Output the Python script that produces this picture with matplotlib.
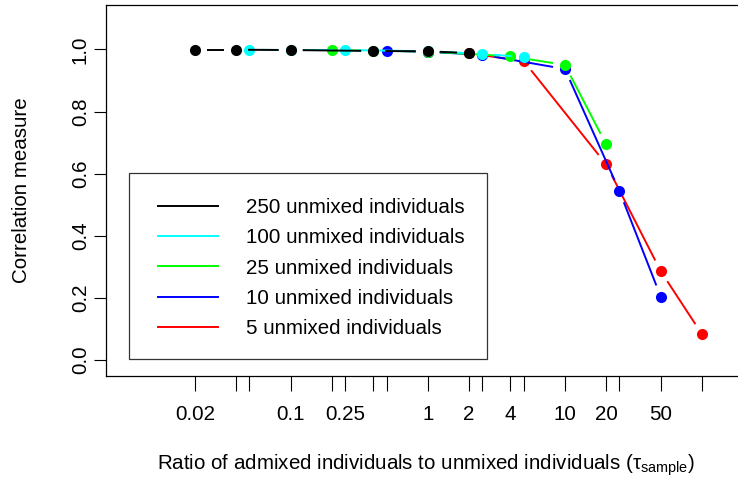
import numpy as np
import matplotlib
matplotlib.use("Agg")
import matplotlib.pyplot as plt
from matplotlib.lines import Line2D
from matplotlib.patches import Rectangle
from matplotlib.transforms import Affine2D

plt.rcParams["font.family"] = ["Liberation Sans", "DejaVu Sans"]
plt.rcParams["mathtext.fontset"] = "custom"
plt.rcParams["mathtext.rm"] = "Liberation Sans"
plt.rcParams["mathtext.it"] = "Liberation Sans:italic"
plt.rcParams["mathtext.sf"] = "Liberation Sans"

FS = 14.8

# ratio of admixed to unmixed individuals, and correlation, per sample size
series_labels = ["250 unmixed individuals", "100 unmixed individuals",
                 "25 unmixed individuals", "10 unmixed individuals",
                 "5 unmixed individuals"]
series_colors = ["#000000", "#00FFFF", "#00FF00", "#0000FF", "#FF0000"]

ratio_250 = [0.02, 0.04, 0.1, 0.4, 1, 2]
corr_250 = [0.999, 0.999, 0.998, 0.995, 0.994, 0.988]
ratio_100 = [0.05, 0.1, 0.25, 1, 2.5, 5]
corr_100 = [0.999, 0.998, 0.998, 0.994, 0.986, 0.975]
ratio_25 = [0.2, 0.4, 1, 4, 10, 20]
corr_25 = [0.998, 0.996, 0.993, 0.978, 0.950, 0.694]
ratio_10 = [0.5, 1, 2.5, 10, 25, 50]
corr_10 = [0.996, 0.992, 0.983, 0.937, 0.544, 0.204]
ratio_5 = [1, 2, 5, 20, 50, 100]
corr_5 = [0.993, 0.987, 0.963, 0.630, 0.286, 0.083]

x_ticks = [0.02, 0.04, 0.05, 0.1, 0.2, 0.25, 0.4, 0.5, 1, 2, 2.5, 4, 5,
           10, 20, 25, 50, 100]
x_tick_labels = ["0.02", "", "", "0.1", "", "0.25", "", "", "1", "2", "",
                 "4", "", "10", "20", "", "50", ""]
y_ticks = [0.0, 0.2, 0.4, 0.6, 0.8, 1.0]
y_tick_labels = ["0.0", "0.2", "0.4", "0.6", "0.8", "1.0"]

W, H = 738, 478
fig = plt.figure(figsize=(W / 100, H / 100), dpi=100)
px = Affine2D().scale(1 / W, -1 / H).translate(0, 1) + fig.transFigure

ax = fig.add_axes([106 / W, 1 - 376 / H, (746 - 106) / W, (376 - 5) / H])
ax.set_xscale("log")
ax.set_xlim(10 ** -2.347, 10 ** 2.321)
ax.set_ylim(-0.0515, 1.143)
for sp in ax.spines.values():
    sp.set_linewidth(0.9)

ax.set_xticks(x_ticks)
ax.set_xticklabels(x_tick_labels)
ax.xaxis.set_minor_locator(matplotlib.ticker.NullLocator())
ax.set_yticks(y_ticks)
ax.set_yticklabels(y_tick_labels, rotation=90, va="center")
ax.tick_params(axis="x", length=11, width=0.8, pad=10, labelsize=FS)
ax.tick_params(axis="y", length=8.6, width=0.8, pad=3, labelsize=FS)

ax.set_ylabel("Correlation measure", fontsize=FS)
ax.yaxis.set_label_coords((31 - 106) / 640, 0.5)
ax.set_xlabel(r"Ratio of admixed individuals to unmixed individuals ($\mathrm{\tau}_{\mathrm{sample}}$)",
              fontsize=FS)
ax.xaxis.set_label_coords(0.5, (376 - 452) / 371)

series = [
    (ratio_250, corr_250), (ratio_100, corr_100), (ratio_25, corr_25),
    (ratio_10, corr_10), (ratio_5, corr_5),
]

GAP = 12.0  # pixel gap left around each point on the connecting lines


def gapped_segments(xs, ys):
    pts = ax.transData.transform(np.column_stack([xs, ys]))
    segs = []
    for p0, p1 in zip(pts[:-1], pts[1:]):
        d = p1 - p0
        L = np.hypot(*d)
        if L <= 2 * GAP:
            continue
        u = d / L
        a = p0 + u * GAP
        b = p1 - u * GAP
        segs.append(ax.transData.inverted().transform(np.array([a, b])))
    return segs


# drawn from the smallest sample up so the larger samples sit on top
for k in reversed(range(len(series))):
    xs, ys = series[k]
    z = 2 + 2 * (len(series) - k)
    for seg in gapped_segments(xs, ys):
        ax.plot(seg[:, 0], seg[:, 1], color=series_colors[k], lw=1.4,
                solid_capstyle="butt", zorder=z)
    ax.plot(xs, ys, linestyle="none", marker="o", markersize=8,
            color=series_colors[k], markeredgewidth=0, zorder=z + 1)

# legend box
fig.patches.append(Rectangle((129, 173.3), 487 - 129, 359.3 - 173.3,
                             transform=px, fill=False, edgecolor="#333333",
                             lw=0.9))
for i, (lab, col) in enumerate(zip(series_labels, series_colors)):
    yrow = 205.7 + 30.3 * i
    fig.lines.append(Line2D([158, 218], [yrow, yrow], transform=px,
                            color=col, lw=1.4))
    fig.text(246.5, yrow + 7.3, lab, transform=px, fontsize=FS,
             ha="left", va="baseline")

fig.savefig("out.png", dpi=100)
